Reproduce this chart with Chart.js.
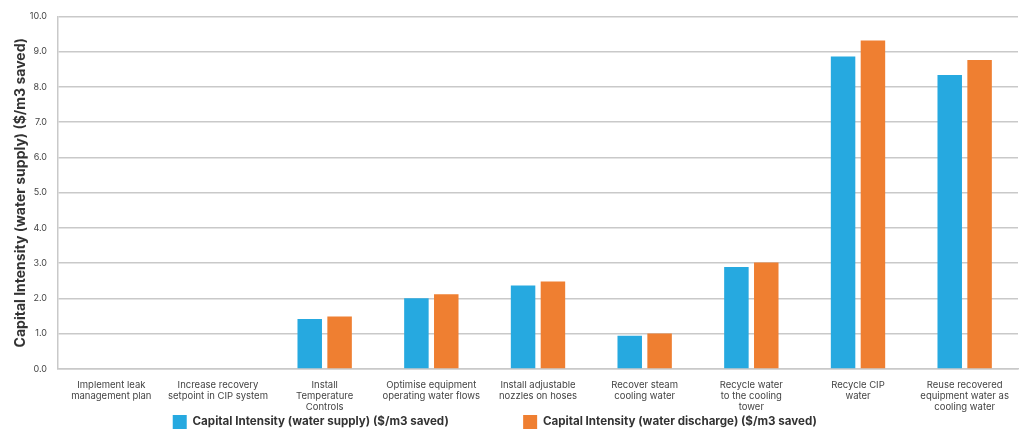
<!DOCTYPE html>
<html>
<head>
<meta charset="utf-8">
<script src="https://cdn.jsdelivr.net/npm/chart.js@4/dist/chart.umd.min.js"></script>
<style>
  html, body { margin: 0; padding: 0; background: #fff; }
  #wrap { width: 1019px; height: 432px; position: relative; }
</style>
</head>
<body>
<div id="wrap"><canvas id="capital-chart"></canvas></div>
<script>
/* ---- data ---- */
const categories = [
  ['Implement leak', 'management plan'],
  ['Increase recovery', 'setpoint in CIP system'],
  ['Install', 'Temperature', 'Controls'],
  ['Optimise equipment', 'operating water flows'],
  ['Install adjustable', 'nozzles on hoses'],
  ['Recover steam', 'cooling water'],
  ['Recycle water', 'to the cooling', 'tower'],
  ['Recycle CIP', 'water'],
  ['Reuse recovered', 'equipment water as', 'cooling water']
];
const waterSupply = [0, 0, 1.42, 2.01, 2.37, 0.94, 2.89, 8.86, 8.34];
const waterDischarge = [0, 0, 1.49, 2.12, 2.48, 1.01, 3.02, 9.32, 8.76];
const seriesLabels = [
  'Capital Intensity (water supply) ($/m3 saved)',
  'Capital Intensity (water discharge) ($/m3 saved)'
];
const yTitle = 'Capital Intensity (water supply) ($/m3 saved)';

const blue = '#26a9e0';
const orange = '#ef7f31';
const gridGrey = '#c9c9c9';
const font = 'Inter, "DejaVu Sans", sans-serif';

// legend items sit far apart in the original, widen them with trailing spaces
const legendGaps = [' '.repeat(26), ' '.repeat(14)];

// keep the legend strip short so the plot reaches down like the original
const legendHeight = {
  id: 'legendHeight',
  afterInit(chart) {
    const lg = chart.legend;
    if (!lg) return;
    const fit = lg.fit.bind(lg);
    lg.fit = function () {
      fit();
      this.height = 20;
    };
  }
};

const el = document.getElementById('capital-chart');
new Chart(el, {
  type: 'bar',
  data: {
    labels: categories,
    datasets: [
      { label: seriesLabels[0], data: waterSupply, backgroundColor: blue, borderWidth: 0 },
      { label: seriesLabels[1], data: waterDischarge, backgroundColor: orange, borderWidth: 0 }
    ]
  },
  plugins: [legendHeight],
  options: {
    responsive: true,
    maintainAspectRatio: false,
    animation: false,
    categoryPercentage: 0.56,
    barPercentage: 0.82,
    layout: { padding: { top: 2, right: 1, left: 10, bottom: 0 } },
    plugins: {
      tooltip: { enabled: false },
      legend: {
        position: 'bottom',
        labels: {
          boxWidth: 14,
          boxHeight: 14,
          padding: 3,
          color: '#333',
          font: { family: font, size: 11.6, weight: 'bold' },
          generateLabels: (chart) =>
            Chart.defaults.plugins.legend.labels.generateLabels(chart).map((item, i) => {
              item.text = item.text + legendGaps[i];
              return item;
            })
        }
      }
    },
    scales: {
      x: {
        grid: { display: false },
        border: { color: gridGrey, width: 1.5 },
        afterFit: (scale) => { scale.height = 43; },
        ticks: {
          color: '#444',
          maxRotation: 0,
          autoSkip: false,
          padding: 3,
          font: { family: font, size: 9.5, lineHeight: 1.15 }
        }
      },
      y: {
        min: 0,
        max: 10,
        afterFit: (scale) => { scale.width = 48; },
        ticks: {
          stepSize: 1,
          color: '#444',
          padding: 11,
          callback: (v) => v.toFixed(1),
          font: { family: font, size: 9 }
        },
        grid: { color: gridGrey, lineWidth: 1.5, drawTicks: false },
        border: { color: gridGrey, width: 1.5 },
        title: {
          display: true,
          text: yTitle,
          color: '#333',
          padding: { top: 2, bottom: 0 },
          font: { family: font, size: 14, weight: 'bold' }
        }
      }
    }
  }
});
</script>
</body>
</html>
